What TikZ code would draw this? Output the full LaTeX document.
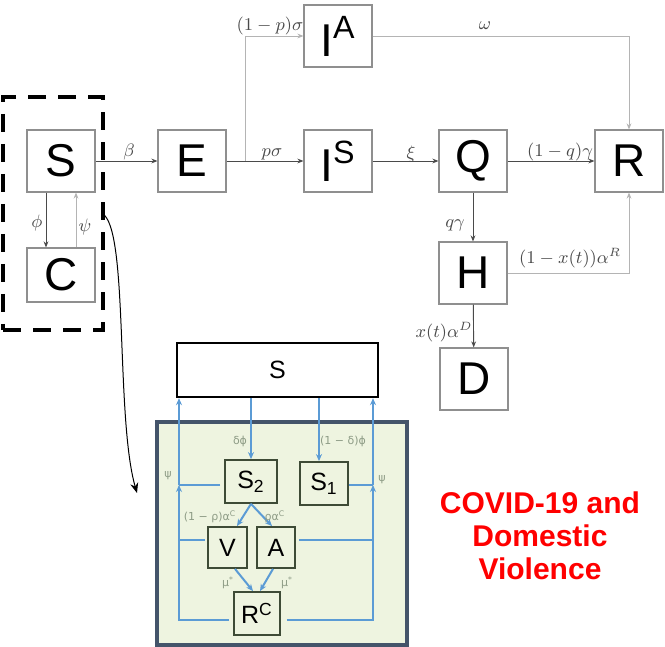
\documentclass[tikz,border=0pt]{standalone}
\usepackage{fontspec}
\setmainfont{Liberation Sans}
\newfontfamily\greekfont{DejaVu Sans}
\usetikzlibrary{arrows.meta, positioning, calc}
\definecolor{boxgray}{HTML}{8F8F8F}
\definecolor{linegray}{HTML}{4A4A4A}
\definecolor{lightline}{HTML}{B4B4B4}
\definecolor{zoomfill}{HTML}{EEF4E0}
\definecolor{zoomedge}{HTML}{44546A}
\definecolor{inneredge}{HTML}{3E4B36}
\definecolor{vblue}{HTML}{5B9BD5}
\definecolor{labgreen}{HTML}{8E9C86}

\begin{document}
\begin{tikzpicture}[x=0.5pt, y=-0.5pt, >={Stealth[length=3pt,width=2.4pt]},
  comp/.style={draw=boxgray, line width=0.6pt, fill=white, minimum width=34pt, minimum height=31pt, inner sep=0pt, font=\fontsize{23}{23}\selectfont},
  flow/.style={->, draw=linegray, line width=0.45pt},
  flowlt/.style={->, draw=lightline, line width=0.45pt},
  rate/.style={font=\fontsize{9}{10}\selectfont, text=linegray, inner sep=1pt},
  sub/.style={draw=inneredge, line width=0.9pt, fill=zoomfill, inner sep=0pt, font=\fontsize{12.5}{12.5}\selectfont},
  vflow/.style={draw=vblue, line width=1pt, >={Stealth[length=3.5pt,width=3pt]}},
  vrate/.style={font=\greekfont\fontsize{5.5}{6}\selectfont, text=labgreen, inner sep=1pt}]
  \useasboundingbox (0,0) rectangle (665,647);

  % --- Compartment model ---
  \node[draw, line width=1.7pt, dash pattern=on 9pt off 6pt, minimum width=50pt, minimum height=116.5pt] (cluster) at (53,213.5) {};
  \node[comp] (S) at (61,161) {S};
  \node[comp, minimum height=27pt] (C) at (61,275) {C};
  \node[comp] (E) at (192,161) {E};
  \node[comp] (IA) at (338,36) {I\textsuperscript{A}};
  \node[comp] (IS) at (338,161) {I\textsuperscript{S}};
  \node[comp] (Q) at (473,161) {Q};
  \node[comp] (R) at (629,161) {R};
  \node[comp] (H) at (473,273) {H};
  \node[comp] (D) at (474,379) {D};

  % flows
  \draw[flow] (S) -- (E);
  \node[rate] (lbeta) at (129,152) {$\beta$};
  \draw[flow] (E) -- (IS);
  \node[rate] (lpsig) at (272,154) {$p\sigma$};
  \coordinate (split) at (245,161);
  \draw[flowlt] (split) |- (IA);
  \node[rate] (lqsig) at (270,26) {$(1-p)\sigma$};
  \draw[flow] (IS) -- (Q);
  \node[rate] (lxi) at (411,154) {$\xi$};
  \draw[flow] (Q) -- (R);
  \node[rate] (lqgam) at (560,152) {$(1-q)\gamma$};
  \draw[flowlt] (IA) -| (R);
  \node[rate] (lomega) at (485,26) {$\omega$};
  \draw[flow] (Q) -- (H);
  \node[rate] (lqg) at (455,225) {$q\gamma$};
  \draw[flowlt] (H) -| (R);
  \node[rate] (lrec) at (570,258) {$(1-x(t))\alpha^R$};
  \draw[flow] (H) -- (D);
  \node[rate] (ldeath) at (444,332) {$x(t)\alpha^D$};
  \draw[flow] ([xshift=-7.5pt]S.south) -- ([xshift=-7.5pt]C.north);
  \node[rate] (lphi) at (37,223) {$\phi$};
  \draw[flowlt] ([xshift=7.5pt]C.north) -- ([xshift=7.5pt]S.south);
  \node[rate] (lpsi) at (85,227) {$\psi$};

  % zoom arrow
  \coordinate (zoomtip) at (137,493);
  \draw[->, >={Stealth[length=5pt,width=4pt]}, line width=0.5pt] ([yshift=-1pt]cluster.east) .. controls (128,240) and (116,420) .. (zoomtip);

  % --- Domestic violence sub-model ---
  \node[draw=zoomedge, line width=1.6pt, fill=zoomfill, minimum width=125pt, minimum height=111.5pt] (zoom) at (282,533.5) {};
  \node[draw, line width=1.2pt, fill=white, minimum width=100.5pt, minimum height=27pt, font=\fontsize{12.5}{12.5}\selectfont] (Sw) at (277.5,370) {S};
  \node[sub, minimum width=26pt, minimum height=21.5pt] (S2) at (251,481.5) {S\textsubscript{2}};
  \node[sub, minimum width=24pt, minimum height=21.5pt] (S1) at (324,483.5) {S\textsubscript{1}};
  \node[sub, minimum width=19.5pt, minimum height=20.5pt] (V) at (227.5,547.5) {V};
  \node[sub, minimum width=19pt, minimum height=20.5pt] (A) at (276,547.5) {A};
  \node[sub, minimum width=23pt, minimum height=21.5pt] (RC) at (257,613.5) {R\textsuperscript{C}};

  \coordinate (lcol) at (179,500);
  \coordinate (rcol) at (373,500);
  % left return loop
  \coordinate (rcl) at ([shift={(-2pt,-3.25pt)}]RC.west);
  \coordinate (s2left) at ([shift={(-2pt,-1.75pt)}]S2.west);
  \draw[vflow, ->] (rcl) -| (s2left -| lcol);
  \draw[vflow, ->] (s2left -| lcol) -- (lcol |- Sw.south);
  \draw[vflow] (s2left) -- (s2left -| lcol);
  \coordinate (vleft) at ([shift={(-1pt,3.75pt)}]V.west);
  \draw[vflow] (vleft) -- (vleft -| lcol);
  % right return loop
  \coordinate (rcr) at ([shift={(3pt,-3.25pt)}]RC.east);
  \coordinate (s1right) at ([yshift=-0.75pt]S1.east);
  \draw[vflow, ->] (rcr) -| (s1right -| rcol);
  \draw[vflow, ->] (s1right -| rcol) -- (rcol |- Sw.south);
  \draw[vflow] (s1right) -- (s1right -| rcol);
  \coordinate (aright) at ([shift={(1.5pt,3.75pt)}]A.east);
  \draw[vflow] (aright) -- (aright -| rcol);
  % inflows
  \draw[vflow, ->] (Sw.south -| S2.north) -- (S2.north);
  \coordinate (s1top) at ([xshift=-2.5pt]S1.north);
  \draw[vflow, ->] (Sw.south -| s1top) -- (s1top);
  \draw[vflow, ->] (S2.south) -- ([xshift=4.75pt]V.north);
  \draw[vflow, ->] (S2.south) -- ([xshift=-2pt]A.north);
  \draw[vflow, ->] ([xshift=3.75pt]V.south) -- ([xshift=-2pt]RC.north);
  \draw[vflow, ->] ([xshift=-1.5pt]A.south) -- ([xshift=1.5pt]RC.north);

  \node[vrate] (ldphi) at (240,441) {δϕ};
  \node[vrate] (lodphi) at (343,441) {(1 − δ)ϕ};
  \node[vrate] (lpsil) at (168,476) {ψ};
  \node[vrate] (lpsir) at (382,480) {ψ};
  \node[vrate] (lvict) at (210,517) {(1 − ρ)α\textsuperscript{C}};
  \node[vrate] (labus) at (275,517) {ρα\textsuperscript{C}};
  \node[vrate] (lmul) at (228,583) {μ\textsuperscript{*}};
  \node[vrate] (lmur) at (287,583) {μ\textsuperscript{*}};

  % --- Title ---
  \node[font=\bfseries\fontsize{15}{16.5}\selectfont, text=red, align=center] (title) at (540,536) {COVID-19 and\\Domestic\\Violence};
\end{tikzpicture}
\end{document}
